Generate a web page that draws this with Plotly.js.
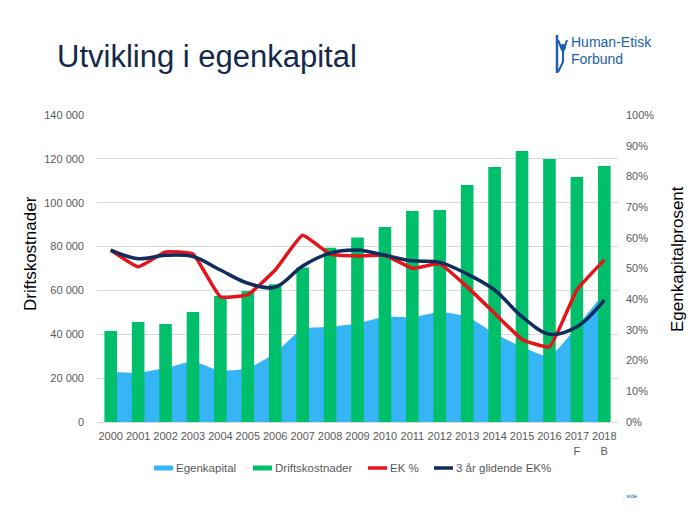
<!DOCTYPE html>
<html>
<head>
<meta charset="utf-8">
<script src="https://cdn.plot.ly/plotly-3.0.1.min.js"></script>
<style>html,body{margin:0;padding:0;background:#fff;}#chart{width:693px;height:518px;}</style>
</head>
<body>
<div id="chart"></div>
<script>
const years = ["2000","2001","2002","2003","2004","2005","2006","2007","2008","2009","2010","2011","2012","2013","2014","2015","2016","2017<br>F","2018<br>B"];
const egenkapital = [22900,22500,24600,27500,23400,24600,31500,42400,43300,45000,48000,47700,50200,48000,40400,34300,30100,43500,59000];
const driftskostnader = [41500,45600,44700,50200,57500,59700,62800,70400,79500,84100,88900,96200,96700,108100,116300,123600,119900,111700,116700];
const ekProsent = [56.0,50.6,55.4,54.7,40.8,41.5,49.5,60.8,54.7,54.1,54.3,50.1,51.5,44.0,35.4,26.9,24.5,43.0,52.8];
const glidendeEk = [56.0,53.2,54.3,53.9,49.5,45.2,43.9,50.8,55.0,56.0,54.3,52.5,52.0,48.2,43.0,34.3,28.6,31.0,39.7];
const leftTicks = [0,20000,40000,60000,80000,100000,120000,140000];
const seriesNames = ["Egenkapital","Driftskostnader","EK %","3 år glidende EK%"];
const seriesColors = ["#35b5f5","#00bf6b","#e4141b","#0f2d5c"];

const FONT = "Liberation Sans, Arial, sans-serif";
const GRAY = "#595959";
const BLUE = "#1b5fae";

const traces = [
  {type:"scatter", mode:"lines", name:seriesNames[0], x:years, y:egenkapital,
   fill:"tozeroy", fillcolor:seriesColors[0], line:{color:seriesColors[0], width:0, shape:"spline", smoothing:0.6},
   xaxis:"x", yaxis:"y"},
  {type:"bar", name:seriesNames[1], x:years, y:driftskostnader,
   marker:{color:seriesColors[1]}, xaxis:"x", yaxis:"y2"},
  {type:"scatter", mode:"lines", name:seriesNames[2], x:years, y:ekProsent,
   line:{color:seriesColors[2], width:3.5, shape:"spline", smoothing:0.35}, xaxis:"x", yaxis:"y3"},
  {type:"scatter", mode:"lines", name:seriesNames[3], x:years, y:glidendeEk,
   line:{color:seriesColors[3], width:3.5, shape:"spline", smoothing:1}, xaxis:"x", yaxis:"y3"}
];

function px(x){return (x-97)/521;}
function py(y){return (422-y)/307;}

// custom legend (Excel-like wide swatches)
const legendSwatchX = [154, 253, 368, 434];
const legendY = 468;
const legendShapes = [];
const legendAnnots = [];
seriesNames.forEach(function(nm, i){
  const x0 = legendSwatchX[i];
  const isLine = i >= 2;
  legendShapes.push({type:"line", xref:"paper", yref:"paper",
    x0:px(x0), x1:px(x0+19), y0:py(legendY), y1:py(legendY),
    line:{color:seriesColors[i], width:isLine ? 3.5 : 5}});
  legendAnnots.push({text:nm, xref:"paper", yref:"paper", x:px(x0+20), y:py(legendY),
    showarrow:false, xanchor:"left", yanchor:"middle",
    font:{family:FONT, size:11.5, color:GRAY}});
});

const layout = {
  width:693, height:518,
  margin:{l:97, r:75, t:115, b:96},
  paper_bgcolor:"#fff", plot_bgcolor:"#fff",
  separators:", ",
  font:{family:FONT, color:GRAY, size:11},
  bargap:0.54,
  showlegend:false,
  title:{text:"Utvikling i egenkapital", x:57/693, xanchor:"left", y:1-56/518, yanchor:"middle",
         font:{family:FONT, size:31, color:"#14284b"}},
  xaxis:{type:"category", showgrid:false, showline:true, linecolor:"#d9d9d9", linewidth:1,
         ticks:"", ticklabelstandoff:4, tickfont:{size:11, color:GRAY}, zeroline:false},
  yaxis:{range:[0,140000], tickvals:leftTicks, tickformat:",", showgrid:true, gridcolor:"#d9d9d9",
         zeroline:false, showline:false, ticks:"", ticklabelstandoff:12, tickfont:{size:11, color:GRAY}},
  yaxis2:{range:[0,140000], overlaying:"y", visible:false, showgrid:false},
  yaxis3:{range:[0,100], overlaying:"y", side:"right", dtick:10, ticksuffix:"%", showgrid:false,
          zeroline:false, ticks:"", ticklabelstandoff:7, tickfont:{size:11, color:GRAY}},
  annotations:[
    {text:"Driftskostnader", xref:"paper", yref:"paper", x:px(30), y:py(254), textangle:-90,
     showarrow:false, xanchor:"center", yanchor:"middle", font:{family:FONT, size:17, color:"#000"}},
    {text:"Egenkapitalprosent", xref:"paper", yref:"paper", x:px(677), y:py(259), textangle:-90,
     showarrow:false, xanchor:"center", yanchor:"middle", font:{family:FONT, size:17, color:"#000"}},
    {text:"Human-Etisk", xref:"paper", yref:"paper", x:px(569), y:py(42), showarrow:false,
     xanchor:"left", yanchor:"middle", font:{family:FONT, size:14, color:BLUE}},
    {text:"Forbund", xref:"paper", yref:"paper", x:px(569), y:py(59), showarrow:false,
     xanchor:"left", yanchor:"middle", font:{family:FONT, size:14, color:BLUE}},
    {text:", side", xref:"paper", yref:"paper", x:px(621), y:py(496), showarrow:false,
     xanchor:"left", yanchor:"middle", font:{family:FONT, size:6, color:BLUE}}
  ].concat(legendAnnots),
  shapes:[
    {type:"line", xref:"paper", yref:"paper", x0:px(557), x1:px(557), y0:py(35), y1:py(73),
     line:{color:BLUE, width:2.5}},
    {type:"circle", xref:"paper", yref:"paper", x0:px(560), x1:px(566), y0:py(50), y1:py(44),
     fillcolor:BLUE, line:{width:0}},
    {type:"path", xref:"paper", yref:"paper",
     path:"M "+px(558)+","+py(40)+" L "+px(563)+","+py(52)+" L "+px(567)+","+py(40),
     line:{color:BLUE, width:2}},
    {type:"path", xref:"paper", yref:"paper",
     path:"M "+px(563)+","+py(52)+" L "+px(563)+","+py(62)+" L "+px(558)+","+py(72),
     line:{color:BLUE, width:2}}
  ].concat(legendShapes)
};

Plotly.newPlot("chart", traces, layout, {displayModeBar:false, staticPlot:true});
</script>
</body>
</html>
